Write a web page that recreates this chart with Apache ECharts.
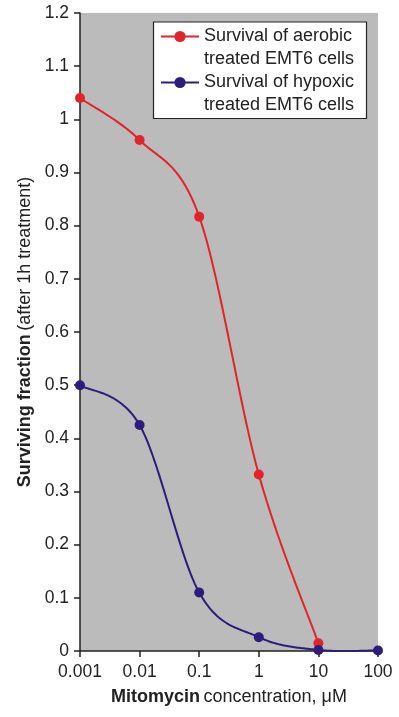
<!DOCTYPE html>
<html>
<head>
<meta charset="utf-8">
<script src="https://cdn.jsdelivr.net/npm/echarts@6/dist/echarts.min.js"></script>
<style>
html,body{margin:0;padding:0;background:#fff;}
#chart{width:399px;height:717px;}
</style>
</head>
<body>
<div id="chart"></div>
<script>
// Data
const concentrations = [0.001, 0.01, 0.1, 1, 10, 100];
const aerobicValues = [1.04, 0.961, 0.817, 0.332, 0.0145];
const hypoxicValues = [0.5, 0.425, 0.110, 0.026, 0.002, 0.001];
const xTickLabels = ['0.001', '0.01', '0.1', '1', '10', '100'];
const yTickLabels = ['0', '0.1', '0.2', '0.3', '0.4', '0.5', '0.6', '0.7', '0.8', '0.9', '1', '1.1', '1.2'];
const seriesNames = ['Survival of aerobic\ntreated EMT6 cells', 'Survival of hypoxic\ntreated EMT6 cells'];

const FONT = '"Liberation Sans", Arial, Helvetica, sans-serif';
const RED = '#e2232a';
const PURPLE = '#2e1c7c';

const aerobicData = aerobicValues.map((v, i) => [concentrations[i], v]);
const hypoxicData = hypoxicValues.map((v, i) => [concentrations[i], v]);

// Spreadsheet-style (Catmull-Rom) smoothing in pixel space, using the axis scales via api.coord
function smoothCurve(data, color) {
  return function (params, api) {
    if (params.dataIndex !== 0) return null;
    const p = data.map(d => api.coord(d));
    const n = p.length;
    const pts = [];
    const t = 1 / 6;
    for (let i = 0; i < n - 1; i++) {
      const p0 = p[Math.max(0, i - 1)], p1 = p[i], p2 = p[i + 1], p3 = p[Math.min(n - 1, i + 2)];
      const c1 = [p1[0] + (p2[0] - p0[0]) * t, p1[1] + (p2[1] - p0[1]) * t];
      const c2 = [p2[0] - (p3[0] - p1[0]) * t, p2[1] - (p3[1] - p1[1]) * t];
      const steps = 40;
      for (let s = (i === 0 ? 0 : 1); s <= steps; s++) {
        const u = s / steps, m = 1 - u;
        pts.push([
          m*m*m*p1[0] + 3*m*m*u*c1[0] + 3*m*u*u*c2[0] + u*u*u*p2[0],
          m*m*m*p1[1] + 3*m*m*u*c1[1] + 3*m*u*u*c2[1] + u*u*u*p2[1]
        ]);
      }
    }
    return {
      type: 'polyline',
      shape: {points: pts},
      style: {stroke: color, lineWidth: 2, fill: null}
    };
  };
}

const chart = echarts.init(document.getElementById('chart'), null, {renderer: 'canvas'});

const option = {
  animation: false,
  textStyle: {fontFamily: FONT, color: '#222'},
  grid: {
    left: 80, right: 21, top: 13, bottom: 66,
    show: true, backgroundColor: '#bbbbbb', borderWidth: 0
  },
  graphic: [{
    type: 'rect',
    z: 3,
    shape: {x: 153.5, y: 22, width: 213, height: 96.5},
    style: {fill: '#ffffff', stroke: '#222222', lineWidth: 1.2}
  }],
  legend: {
    orient: 'vertical',
    left: 160,
    top: 2,
    padding: 0,
    itemWidth: 38,
    itemHeight: 14,
    itemGap: -23,
    z: 5,
    data: seriesNames,
    lineStyle: {width: 2, opacity: 1},
    formatter: function (name) { return ' \n' + name; },
    textStyle: {
      fontFamily: FONT, fontSize: 18, color: '#222',
      lineHeight: 23
    }
  },
  xAxis: {
    type: 'log',
    logBase: 10,
    min: 0.001,
    max: 100,
    name: '{b|Mitomycin} {r|concentration, μM}',
    nameLocation: 'middle',
    nameGap: 37,
    nameTextStyle: {
      rich: {
        b: {fontFamily: FONT, fontSize: 18, fontWeight: 'bold', color: '#222'},
        r: {fontFamily: FONT, fontSize: 18, color: '#222'}
      }
    },
    axisLine: {show: true, lineStyle: {color: '#222', width: 1.5}},
    axisTick: {show: true, inside: false, length: 6, lineStyle: {color: '#222', width: 1.5}},
    splitLine: {show: false},
    minorTick: {show: false},
    axisLabel: {
      fontFamily: FONT, fontSize: 17.5, color: '#222', margin: 12,
      formatter: function (v) {
        const i = Math.round(Math.log10(v)) + 3;
        return xTickLabels[i] !== undefined ? xTickLabels[i] : '';
      }
    }
  },
  yAxis: {
    type: 'value',
    min: 0,
    max: 1.2,
    interval: 0.1,
    name: '{b|Surviving fraction} {r|(after 1h treatment)}',
    nameLocation: 'middle',
    nameGap: 46,
    nameTextStyle: {
      rich: {
        b: {fontFamily: FONT, fontSize: 18, fontWeight: 'bold', color: '#222'},
        r: {fontFamily: FONT, fontSize: 18, color: '#222'}
      }
    },
    axisLine: {show: true, lineStyle: {color: '#222', width: 1.5}},
    axisTick: {show: true, inside: false, length: 6, lineStyle: {color: '#222', width: 1.5}},
    splitLine: {show: false},
    axisLabel: {
      fontFamily: FONT, fontSize: 17.5, color: '#222', margin: 11,
      formatter: function (v) {
        const i = Math.round(v * 10);
        return yTickLabels[i] !== undefined ? yTickLabels[i] : '';
      }
    }
  },
  series: [
    {
      type: 'custom',
      renderItem: smoothCurve(aerobicData, RED),
      data: aerobicData,
      z: 2,
      silent: true
    },
    {
      type: 'custom',
      renderItem: smoothCurve(hypoxicData, PURPLE),
      data: hypoxicData,
      z: 3,
      silent: true
    },
    {
      name: seriesNames[0],
      type: 'line',
      symbol: 'circle',
      symbolSize: 10,
      z: 4,
      lineStyle: {color: RED, width: 0, opacity: 0},
      itemStyle: {color: RED},
      data: aerobicData
    },
    {
      name: seriesNames[1],
      type: 'line',
      symbol: 'circle',
      symbolSize: 10,
      z: 5,
      lineStyle: {color: PURPLE, width: 0, opacity: 0},
      itemStyle: {color: PURPLE},
      data: hypoxicData
    }
  ]
};
chart.setOption(option);
</script>
</body>
</html>
